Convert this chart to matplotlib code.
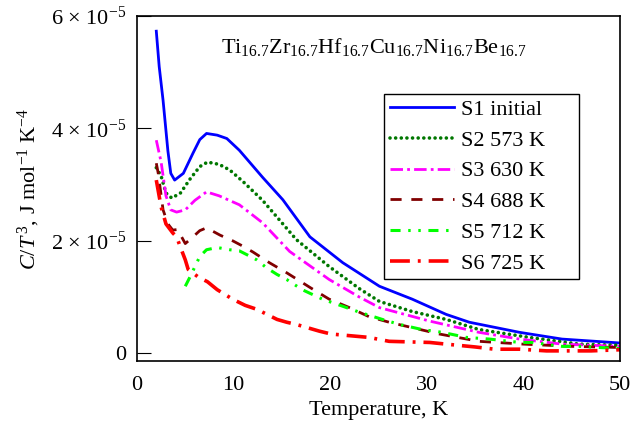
import matplotlib
matplotlib.use('Agg')
import matplotlib.pyplot as plt

plt.rcParams['font.family'] = ['Liberation Serif', 'DejaVu Serif']
plt.rcParams['mathtext.fontset'] = 'custom'
plt.rcParams['mathtext.rm'] = 'Liberation Serif'
plt.rcParams['mathtext.it'] = 'Liberation Serif:italic'

# values in units of 1e-5 J mol^-1 K^-4
T1 = [2.0, 2.3, 2.7, 3.2, 3.5, 3.9, 4.8, 5.8, 6.5, 7.2, 8.3, 9.3, 10.6, 13.0, 15.1, 17.9, 21.3, 25.1, 28.5, 32.0, 34.4, 39.6, 44.0, 49.2, 50.0]
S1 = [5.73, 5.1, 4.5, 3.6, 3.2, 3.08, 3.2, 3.56, 3.8, 3.91, 3.88, 3.82, 3.61, 3.13, 2.73, 2.07, 1.61, 1.19, 0.96, 0.69, 0.55, 0.37, 0.25, 0.19, 0.18]

T2 = [2.0, 2.5, 3.0, 3.6, 4.5, 5.5, 6.5, 7.3, 8.5, 9.6, 11.0, 13.0, 16.5, 19.9, 23.0, 25.1, 28.5, 32.0, 35.4, 40.6, 45.8, 50.0]
S2 = [3.3, 3.15, 2.85, 2.76, 2.85, 3.1, 3.32, 3.40, 3.36, 3.26, 3.05, 2.72, 2.02, 1.54, 1.15, 0.92, 0.74, 0.60, 0.42, 0.28, 0.16, 0.14]

T3 = [2.0, 2.5, 3.0, 3.5, 4.1, 5.0, 6.0, 7.2, 8.5, 10.6, 13.0, 15.8, 19.9, 23.0, 25.1, 30.3, 35.4, 39.6, 44.0, 50.0]
S3 = [3.79, 3.4, 2.8, 2.55, 2.51, 2.55, 2.72, 2.87, 2.8, 2.64, 2.32, 1.81, 1.31, 1.0, 0.81, 0.57, 0.37, 0.25, 0.16, 0.12]

T4 = [2.0, 2.2, 2.7, 3.2, 3.7, 4.2, 5.0, 5.8, 6.5, 7.2, 8.6, 9.9, 11.0, 12.0, 13.7, 15.5, 17.9, 19.9, 22.0, 24.0, 26.1, 31.3, 35.4, 40.0, 45.0, 50.0]
S4 = [3.38, 3.2, 2.55, 2.3, 2.19, 2.2, 1.95, 2.07, 2.18, 2.23, 2.1, 2.0, 1.9, 1.8, 1.61, 1.43, 1.17, 0.96, 0.81, 0.65, 0.55, 0.34, 0.21, 0.16, 0.12, 0.1]

T5 = [5.0, 5.5, 6.0, 6.5, 7.2, 8.3, 9.6, 10.6, 11.4, 12.4, 13.4, 14.5, 15.5, 17.1, 19.2, 20.7, 21.7, 23.0, 25.4, 27.2, 29.5, 31.6, 34.1, 36.5, 39.6, 41.0, 44.0, 45.8, 50.0]
S5 = [1.19, 1.36, 1.54, 1.72, 1.84, 1.88, 1.84, 1.82, 1.75, 1.66, 1.52, 1.40, 1.31, 1.13, 0.96, 0.87, 0.81, 0.73, 0.60, 0.51, 0.42, 0.37, 0.28, 0.25, 0.19, 0.19, 0.12, 0.12, 0.08]

T6 = [2.0, 2.5, 3.0, 3.7, 4.1, 4.6, 5.0, 5.3, 6.3, 7.3, 8.3, 9.9, 11.2, 12.4, 14.5, 15.5, 16.5, 18.9, 20.1, 24.0, 26.1, 30.3, 32.0, 35.0, 37.0, 39.6, 42.4, 47.0, 50.0]
S6 = [3.08, 2.6, 2.3, 2.14, 2.07, 1.84, 1.66, 1.49, 1.36, 1.27, 1.13, 0.96, 0.85, 0.78, 0.60, 0.55, 0.51, 0.39, 0.34, 0.28, 0.21, 0.19, 0.16, 0.11, 0.07, 0.07, 0.04, 0.04, 0.06]

labels = ['S1 initial', 'S2 573 K', 'S3 630 K', 'S4 688 K', 'S5 712 K', 'S6 725 K']
yticks = [0, 2, 4, 6]
ytick_labels = ['0', '2 × 10$^{-5}$', '4 × 10$^{-5}$', '6 × 10$^{-5}$']
xticks = [0, 10, 20, 30, 40, 50]

fig = plt.figure(figsize=(6.41, 4.23), dpi=100)
ax = fig.add_axes([0.2137, 0.1466, 0.7535, 0.8155])

ax.plot(T1, S1, color='#0000ff', lw=2.0, ls='-', label=labels[0])
ax.plot(T2, S2, color='#007700', lw=2.6, ls=(0, (0.01, 1.55)), dash_capstyle='round', label=labels[1])
ax.plot(T3, S3, color='#ff00ff', lw=2.0, ls=(0, (4.5, 1.5, 1.0, 1.5)), label=labels[2])
ax.plot(T4, S4, color='#800000', lw=2.0, ls=(0, (4.0, 3.5)), label=labels[3])
ax.plot(T5, S5, color='#00ff00', lw=2.2, ls=(0, (3.3, 2.5, 0.8, 2.5, 0.8, 2.5)), label=labels[4])
ax.plot(T6, S6, color='#ff0000', lw=2.6, ls=(0, (5.5, 2.2, 0.8, 2.2)), label=labels[5])

ax.set_xlim(0, 50)
ax.set_ylim(-0.14, 6)
ax.set_xticks(xticks)
ax.set_yticks(yticks)
ax.set_yticklabels(ytick_labels)
ax.tick_params(axis='x', length=0, labelsize=16, pad=11)
ax.tick_params(axis='y', direction='in', length=10, labelsize=16, pad=8)
for s in ax.spines.values():
    s.set_linewidth(1.2)

ax.set_xlabel('Temperature, K', fontsize=16, labelpad=4)
ax.set_ylabel(r'$C/T^{\,3}$, J mol$^{-1}$ K$^{-4}$', fontsize=16, labelpad=6)

ax.text(0.49, 0.91,
        r'$\mathrm{Ti_{16.7}Zr_{16.7}Hf_{16.7}Cu_{16.7}Ni_{16.7}Be_{16.7}}$',
        transform=ax.transAxes, ha='center', va='center', fontsize=16)

leg = ax.legend(loc='upper left', bbox_to_anchor=(0.512, 0.0, 0.403, 0.775),
                mode='expand', fontsize=16,
                frameon=True, fancybox=False, edgecolor='black', framealpha=1,
                handlelength=2.9, handletextpad=0.3, labelspacing=0.46,
                borderpad=0.25, borderaxespad=0)
leg.get_frame().set_linewidth(1.0)

fig.savefig('out.png', dpi=100)
